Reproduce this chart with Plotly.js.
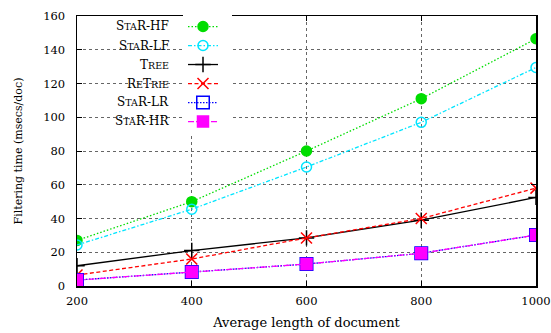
<!DOCTYPE html>
<html><head><meta charset="utf-8">
<script src="https://cdn.plot.ly/plotly-3.0.1.min.js"></script>
<style>body{margin:0;background:#fff}#c{width:551px;height:333px}</style>
</head><body><div id="c"></div>
<script>
const lengths = [200, 400, 600, 800, 1000];
const starHF = [27, 50, 80, 111, 146.5];
const starLF = [24.3, 45.5, 70.5, 97, 129.5];
const tree = [12, 21, 28.5, 39, 52.5];
const retrie = [6.5, 16, 28.5, 40, 58];
const starLR = [3.5, 8.3, 13, 19.4, 30.2];
const starHR = [3.5, 8.3, 13, 19.4, 30.2];
const sc = t => "<span style='font-size:9.5px'>" + t + "</span>";
const labels = [
  "S" + sc("TA") + "R-HF",
  "S" + sc("TA") + "R-LF",
  "T" + sc("REE"),
  "R" + sc("E") + "T" + sc("RIE"),
  "S" + sc("TA") + "R-LR",
  "S" + sc("TA") + "R-HR"
];
const series = [starHF, starLF, tree, retrie, starLR, starHR];
const colors = ['#00dd00', '#00e5ff', '#000000', '#ff0000', '#0000ff', '#ff00ff'];
const dashes = ['1.5px,2px', '4px,2px,1.5px,2px', 'solid', '4px,2.5px', '1.5px,1.5px', '6px,2px,1.5px,2px'];
const symbols = ['circle', 'circle-open', 'cross-thin-open', 'x-thin-open', 'square-open', 'square'];
const sizes = [10, 10, 11, 11, 12.5, 11];
const traces = series.map((s, i) => ({
  x: lengths, y: s, type: 'scatter', mode: 'lines+markers',
  name: ' ',
  line: {color: colors[i], dash: dashes[i], width: 1.3},
  marker: {symbol: symbols[i], size: sizes[i], color: colors[i],
           line: {color: colors[i], width: 1.5}}
}));
const L = 77, R = 536, T = 14, B = 286;
const px = v => (v - L) / (R - L);
const py = v => (B - v) / (B - T);
const rowY = [24, 44, 63, 82, 101, 120];
const annotations = labels.map((t, i) => ({
  xref: 'paper', yref: 'paper', x: px(171), y: py(rowY[i]),
  xanchor: 'right', yanchor: 'middle', showarrow: false, text: t,
  font: {family: 'DejaVu Serif', size: 12, color: '#000'}
}));
const layout = {
  width: 551, height: 333,
  margin: {l: L, r: 551 - R, t: T, b: 333 - B},
  paper_bgcolor: '#fff', plot_bgcolor: '#fff',
  font: {family: 'DejaVu Serif', size: 11.5, color: '#000'},
  showlegend: true,
  legend: {x: px(183), y: py(10), xanchor: 'left', yanchor: 'top',
           bgcolor: '#fff', font: {family: 'DejaVu Serif', size: 10}, tracegroupgap: 0},
  xaxis: {range: [200, 1000], tickvals: [200, 400, 600, 800, 1000],
          showline: true, linecolor: '#000', linewidth: 1.5, mirror: 'ticks',
          ticks: 'inside', ticklen: 5, tickcolor: '#000', ticklabelstandoff: 4,
          showgrid: true, gridcolor: '#666666', griddash: 'dot', gridwidth: 1,
          zeroline: false,
          title: {text: 'Average length of document', font: {family: 'DejaVu Serif', size: 13}, standoff: 10}},
  yaxis: {range: [0, 160], tickvals: [0, 20, 40, 60, 80, 100, 120, 140, 160],
          showline: true, linecolor: '#000', linewidth: 1.5, mirror: 'ticks',
          ticks: 'inside', ticklen: 5, tickcolor: '#000', ticklabelstandoff: 8,
          showgrid: true, gridcolor: '#666666', griddash: 'dot', gridwidth: 1,
          zeroline: false,
          title: {text: 'Filtering time (msecs/doc)', font: {family: 'DejaVu Serif', size: 11}, standoff: 18}},
  annotations: annotations
};
Plotly.newPlot('c', traces, layout, {displayModeBar: false, staticPlot: true});
</script></body></html>
